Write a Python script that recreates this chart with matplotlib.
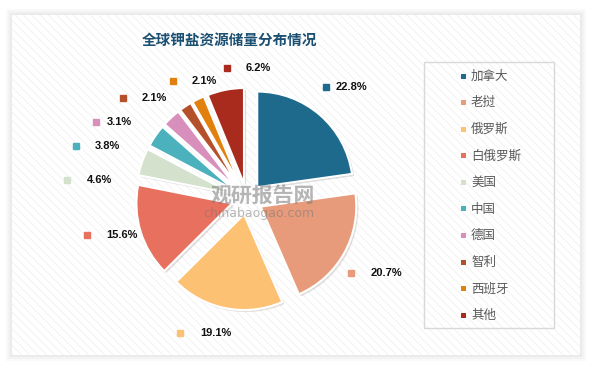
import matplotlib
matplotlib.use('Agg')
import matplotlib.pyplot as plt
from matplotlib.patches import Rectangle
import matplotlib.patheffects as pe

plt.rcParams['font.family'] = ['Noto Sans CJK SC', 'DejaVu Sans']

title = '全球钾盐资源储量分布情况'
countries = ['加拿大', '老挝', '俄罗斯', '白俄罗斯', '美国', '中国', '德国', '智利', '西班牙', '其他']
shares = [22.8, 20.7, 19.1, 15.6, 4.6, 3.8, 3.1, 2.1, 2.1, 6.2]
colors = ['#1d6a8d', '#e89b7a', '#fdc173', '#e8705f', '#d4e1cc',
          '#4bb1bd', '#d98fbb', '#b4502a', '#e2800d', '#a92b1d']

W, H = 595, 369
fig = plt.figure(figsize=(W / 100, H / 100), dpi=100)
fig.patch.set_facecolor('white')


def fx(px):
    return px / W


def fy(py):
    return 1 - py / H


# panel with soft shadow and diagonal hatch
for i, a in enumerate([0.025, 0.025, 0.03]):
    d = 6 - 2 * i
    fig.patches.append(Rectangle((fx(12 - d), fy(355 + d)), fx(568 + 2 * d), (340 + 2 * d) / H,
                                 transform=fig.transFigure, facecolor='black', alpha=a,
                                 edgecolor='none', zorder=0))
fig.patches.append(Rectangle((fx(12), fy(355)), fx(568), 340 / H, transform=fig.transFigure,
                             facecolor='white', edgecolor='none', zorder=0.5))
plt.rcParams['hatch.linewidth'] = 0.6
fig.patches.append(Rectangle((fx(12), fy(355)), fx(568), 340 / H, transform=fig.transFigure,
                             facecolor='none', edgecolor='#f0f0f0', hatch='\\\\\\\\',
                             linewidth=0, zorder=0.6))

fig.text(fx(230), fy(40), title, ha='center', va='center', fontsize=10.5,
         fontweight='bold', color='#1b4f72')

# pie axes: 100 px per data unit, centre at (247, 199) px
cx, cy = 247, 199
ax = fig.add_axes([fx(cx - 130), fy(cy + 130), 260 / W, 260 / H])
ax.set_zorder(2)
ax.set_xlim(-1.3, 1.3)
ax.set_ylim(-1.3, 1.3)
ax.set_aspect('equal')
ax.axis('off')

wedges, _ = ax.pie(shares, colors=colors, startangle=90, counterclock=False,
                   explode=[0.15] * len(shares), radius=0.92,
                   wedgeprops=dict(edgecolor='white', linewidth=1.5))
for w in wedges:
    w.set_path_effects([pe.SimplePatchShadow(offset=(1.5, -1.5), alpha=0.15), pe.Normal()])

# watermark
ax.text((262 - cx) / 100, (cy - 195) / 100, '观研报告网', ha='center', va='center',
        fontsize=15, fontweight='bold', color='#7a7a7a', alpha=0.55, zorder=5)
ax.text((258 - cx) / 100, (cy - 213) / 100, 'chinabaogao.com', ha='center', va='center',
        fontsize=9, family='DejaVu Sans', color='#7a7a7a', alpha=0.55, zorder=5)

# data labels: marker x, text x, y (pixels)
label_layout = [(323, 332, 91), (347, 366, 270), (183, 202, 328), (93, 112, 234),
                (74, 93, 181), (83, 101, 148), (102, 112, 125), (128, 146, 102),
                (176, 194, 86), (228, 246, 73)]
for (mx, tx, ly), v, c in zip(label_layout, shares, colors):
    ax.plot((mx - cx) / 100, (cy - ly) / 100, 's', color=c, markersize=3.8, clip_on=False)
    ax.text((tx - cx) / 100, (cy - ly) / 100, f'{v:.1f}%', ha='left', va='center',
            fontsize=8, fontweight='bold', family='Liberation Sans', color='#111111')

# legend
fig.patches.append(Rectangle((fx(424), fy(328)), fx(130), 266 / H, transform=fig.transFigure,
                             facecolor='none', edgecolor='#d9d9d9', linewidth=1, zorder=3))
for i, (name, c) in enumerate(zip(countries, colors)):
    y = 76 + i * 26.6
    fig.patches.append(Rectangle((fx(461), fy(y + 2.5)), fx(5), 5 / H, transform=fig.transFigure,
                                 facecolor=c, edgecolor='none', zorder=3))
    fig.text(fx(471), fy(y), name, ha='left', va='center', fontsize=9, color='#595959')

fig.savefig('out.png', dpi=100)
